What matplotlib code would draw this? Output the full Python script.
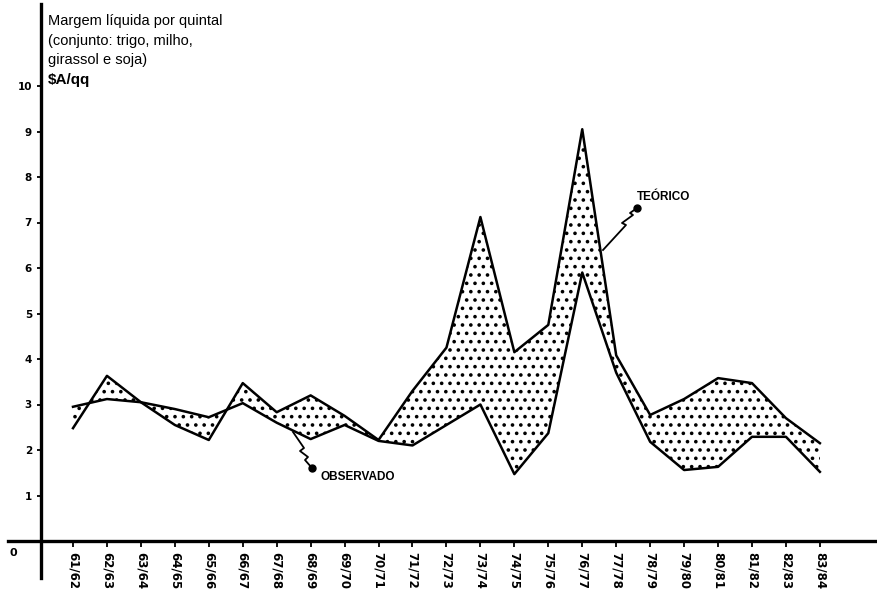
import matplotlib
matplotlib.use('Agg')
import matplotlib.pyplot as plt
import numpy as np

safras = ['61/62', '62/63', '63/64', '64/65', '65/66', '66/67', '67/68', '68/69',
          '69/70', '70/71', '71/72', '72/73', '73/74', '74/75', '75/76', '76/77',
          '77/78', '78/79', '79/80', '80/81', '81/82', '82/83', '83/84']
teorico = [2.48, 3.63, 3.05, 2.55, 2.22, 3.47, 2.83, 3.2, 2.75, 2.22, 3.3, 4.25,
           7.12, 4.15, 4.75, 9.05, 4.08, 2.77, 3.12, 3.58, 3.47, 2.7, 2.15]
observado = [2.95, 3.12, 3.05, 2.9, 2.72, 3.03, 2.6, 2.24, 2.55, 2.2, 2.1, 2.55,
             3.0, 1.47, 2.37, 5.9, 3.7, 2.18, 1.56, 1.63, 2.29, 2.29, 1.52]
yticks = [1, 2, 3, 4, 5, 6, 7, 8, 9, 10]

plt.rcParams['font.family'] = ['Liberation Sans', 'DejaVu Sans']
plt.rcParams['hatch.linewidth'] = 1.4

# pixel scale of the original drawing
X0, DX = 73, 33.95
Y0, DY = 541, 45.5
W, H = 878, 592


def px(xp, yp):
    # pixel position (from top-left) -> data coords
    return (xp - X0) / DX, (Y0 - yp) / DY


fig = plt.figure(figsize=(W / 100, H / 100), dpi=100)
ax = fig.add_axes([0, 0, 1, 1])
ax.set_xlim(-X0 / DX, (W - X0) / DX)
ax.set_ylim((Y0 - H) / DY, Y0 / DY)

x = np.arange(len(safras))
ax.fill_between(x, teorico, observado, facecolor='white', edgecolor='black',
                hatch='..', linewidth=0, zorder=1)
ax.plot(x, teorico, color='black', lw=1.8, zorder=3)
ax.plot(x, observado, color='black', lw=1.8, zorder=3)

# axes drawn as crossing lines
for s in ['top', 'right']:
    ax.spines[s].set_visible(False)
ax.spines['left'].set_position(('data', px(41, 0)[0]))
ax.spines['left'].set_bounds(px(0, 578)[1], px(0, 4)[1])
ax.spines['bottom'].set_position(('data', 0))
ax.spines['bottom'].set_bounds(px(8, 0)[0], px(W, 0)[0])
ax.spines['left'].set_linewidth(2.4)
ax.spines['bottom'].set_linewidth(2.4)

ax.set_yticks(yticks)
ax.set_yticklabels([str(v) for v in yticks], fontsize=7.5, fontweight='bold',
                   family='DejaVu Sans')
ax.tick_params(axis='y', direction='out', length=3, width=1.3, pad=3.5)
ax.set_xticks(x)
ax.set_xticklabels(safras, rotation=-90, fontsize=8.5, fontweight='bold',
                   family='DejaVu Sans')
ax.tick_params(axis='x', direction='out', length=4, width=1.3, pad=4)

ax.text(*px(10, 548), '0', fontsize=8, fontweight='bold', ha='left', va='top',
        family='DejaVu Sans')

# title block
titulo = ['Margem líquida por quintal', '(conjunto: trigo, milho,', 'girassol e soja)']
for i, linha in enumerate(titulo):
    ax.text(*px(48, 25 + 19.5 * i), linha, fontsize=10.5, ha='left', va='baseline')
ax.text(*px(48, 84), '\\$A/qq', fontsize=11, fontweight='bold', ha='left', va='baseline')

# leader lines with the little zigzag
leader_teo = [(603, 250), (626, 225), (622, 223), (633, 215), (630, 213), (637, 208)]
leader_obs = [(293, 432), (304, 448), (300, 451), (308, 457), (305, 460), (312, 468)]
for pts in [leader_teo, leader_obs]:
    d = np.array([px(a, b) for a, b in pts])
    ax.plot(d[:, 0], d[:, 1], color='black', lw=1.3, zorder=4)
    ax.plot(d[-1, 0], d[-1, 1], 'o', color='black', ms=5, zorder=4)

ax.text(*px(637, 197), 'TEÓRICO', fontsize=8.5, fontweight='bold', ha='left', va='center')
ax.text(*px(321, 477), 'OBSERVADO', fontsize=8.5, fontweight='bold', ha='left', va='center')

fig.savefig('out.png', dpi=100)
